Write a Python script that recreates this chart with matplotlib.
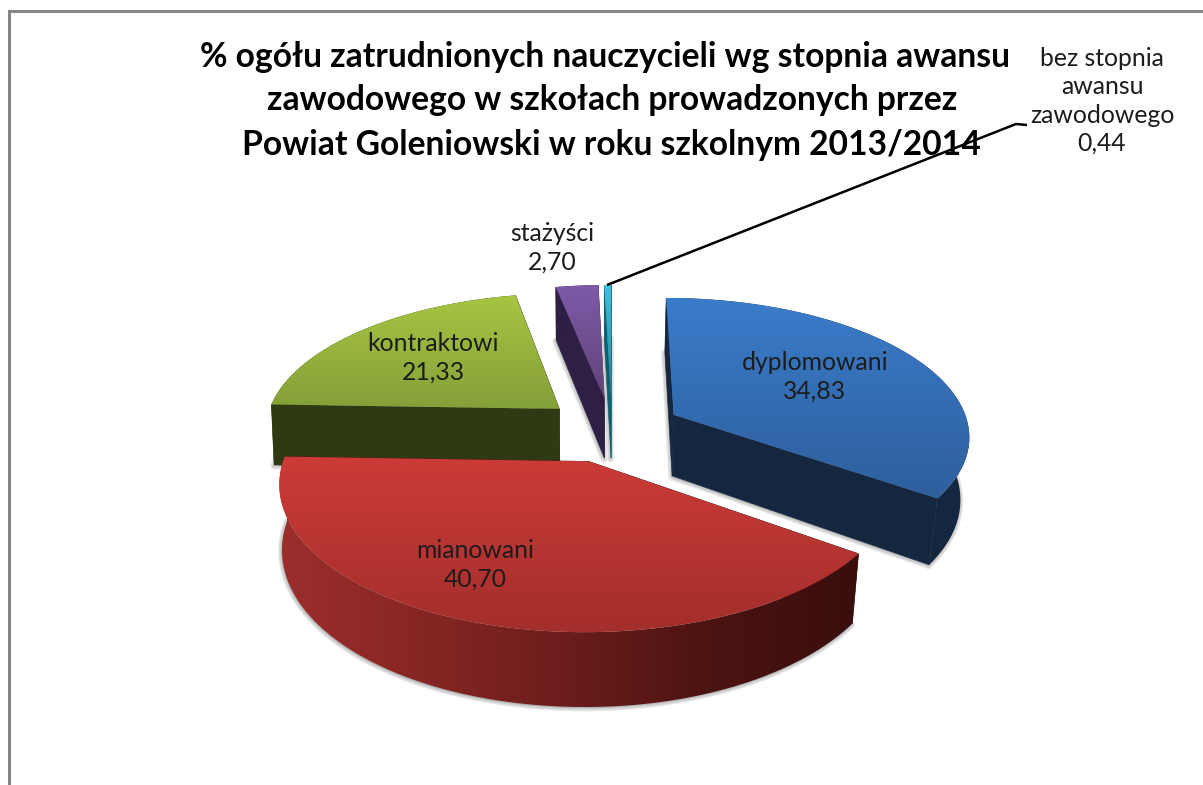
import numpy as np
import matplotlib
matplotlib.use("Agg")
import matplotlib.pyplot as plt
from matplotlib.patches import Polygon
from matplotlib.colors import LinearSegmentedColormap

# --- data ---
categories = ["dyplomowani", "mianowani", "kontraktowi", "stażyści",
              "bez stopnia\nawansu\nzawodowego"]
values = [34.83, 40.70, 21.33, 2.70, 0.44]
title_lines = ["% ogółu zatrudnionych nauczycieli wg stopnia awansu",
               "zawodowego w szkołach prowadzonych przez",
               "Powiat Goleniowski w roku szkolnym 2013/2014"]

# --- style ---
top_colors = [("#3b7ccb", "#2d5f9c"), ("#cc3b38", "#a32e2b"), ("#a6c541", "#84a039"),
              ("#7f5aa8", "#5f4378"), ("#40c2de", "#1f7f95")]
wall_colors = [["#14273f", "#14273f"], ["#9c2e2c", "#862624", "#6b1d1b", "#4a1311", "#3a0e0d"],
               ["#2f3a14", "#2f3a14"], ["#2e1f45", "#2e1f45"], ["#0f5f70", "#0f5f70"]]
cut_colors = ["#14273f", "#4a1311", "#2f3a14", "#2e1f45", "#0f5f70"]
label_pos = [(815, 377), (475, 565), (433, 358), (552, 248), (1102, 101)]
title_pos = [(605, 57), (612, 100), (611, 145)]
paint_order = [2, 3, 4, 0, 1]

plt.rcParams["font.family"] = ["Lato", "DejaVu Sans"]
fig = plt.figure(figsize=(12.03, 7.85), dpi=100)
ax = fig.add_axes([0, 0, 1, 1])
ax.set_axis_off()

# perspective model
CX, CY, RX, RY, K, EXPL, H = 612, 429.5, 296, 137, 0.14, 0.238, 62
SHRINK_L, SHRINK_R = 0.008, 0.025
z = [10]


def proj(X, Y):
    f = 1 / (1 + K * Y)
    return CX + RX * X * f, CY - RY * Y * f, f


def lower(x, y, f):
    s = np.where(np.asarray(x) < CX, SHRINK_L, SHRINK_R)
    return CX + (x - CX) * (1 - s), y + H * f


def gradient(poly, colors, horizontal=False):
    poly = np.asarray(poly)
    x0, y0 = poly.min(axis=0)
    x1, y1 = poly.max(axis=0)
    cmap = LinearSegmentedColormap.from_list("g", colors)
    g = np.linspace(0, 1, 256)
    g = g[None, :] if horizontal else g[:, None]
    z[0] += 1
    im = ax.imshow(g, extent=(x0, x1, y1, y0), cmap=cmap, aspect="auto", zorder=z[0],
                   interpolation="bilinear", origin="upper")
    patch = Polygon(poly, closed=True, transform=ax.transData, fc="none", ec="none")
    ax.add_patch(patch)
    im.set_clip_path(patch)


def flat(poly, color, **kw):
    z[0] += 1
    ax.add_patch(Polygon(poly, closed=True, fc=color, ec=color, lw=0.4, zorder=z[0], **kw))


edges = np.cumsum([0] + values) / sum(values) * 2 * np.pi
for i in paint_order:
    a0, a1 = edges[i], edges[i + 1]
    mid = (a0 + a1) / 2
    ox, oy = EXPL * np.sin(mid), EXPL * np.cos(mid)
    t = np.linspace(a0, a1, 160)
    rx, ry, rf = proj(ox + np.sin(t), oy + np.cos(t))
    ax_, ay_, af_ = proj(ox, oy)
    bx, by = lower(rx, ry, rf)
    abx, aby = lower(ax_, ay_, af_)
    top = np.r_[[[ax_, ay_]], np.c_[rx, ry]]
    bottom = np.r_[[[abx, aby]], np.c_[bx, by]]
    rim = np.r_[np.c_[rx, ry], np.c_[bx, by][::-1]]
    cut_a = [(ax_, ay_), (rx[0], ry[0]), (bx[0], by[0]), (abx, aby)]
    cut_b = [(ax_, ay_), (rx[-1], ry[-1]), (bx[-1], by[-1]), (abx, aby)]
    # soft shadow
    z[0] += 1
    for lw in (5, 3.5, 2):
        ax.add_patch(Polygon(bottom + [-0.5, 1], closed=True, fc="#808080", ec="#808080",
                             lw=lw, alpha=0.15, zorder=z[0], joinstyle="round"))
    flat(cut_a, cut_colors[i])
    flat(cut_b, cut_colors[i])
    gradient(rim, wall_colors[i], horizontal=True)
    gradient(top, top_colors[i])

# labels
fmt = [f"{v:.2f}".replace(".", ",") for v in values]
for name, val, (x, y) in zip(categories, fmt, label_pos):
    ax.text(x, y, f"{name}\n{val}", ha="center", va="center", fontsize=17.8,
            color="#1c1c1c", linespacing=1.28, zorder=500)

# title
for line, (x, y) in zip(title_lines, title_pos):
    ax.text(x, y, line, ha="center", va="center", fontsize=24.2, fontweight="bold",
            color="black", zorder=500)

# leader line
ax.plot([607, 1016, 1027], [285, 124, 125], color="black", lw=1.8, zorder=400,
        solid_capstyle="butt")

# outer frame
ax.plot([8.5, 8.5, 1203], [785, 10.5, 10.5], color="#868686", lw=2.2, zorder=400,
        solid_joinstyle="miter")

ax.set_xlim(0, 1203)
ax.set_ylim(785, 0)
fig.savefig("out.png", dpi=100, facecolor="white")
